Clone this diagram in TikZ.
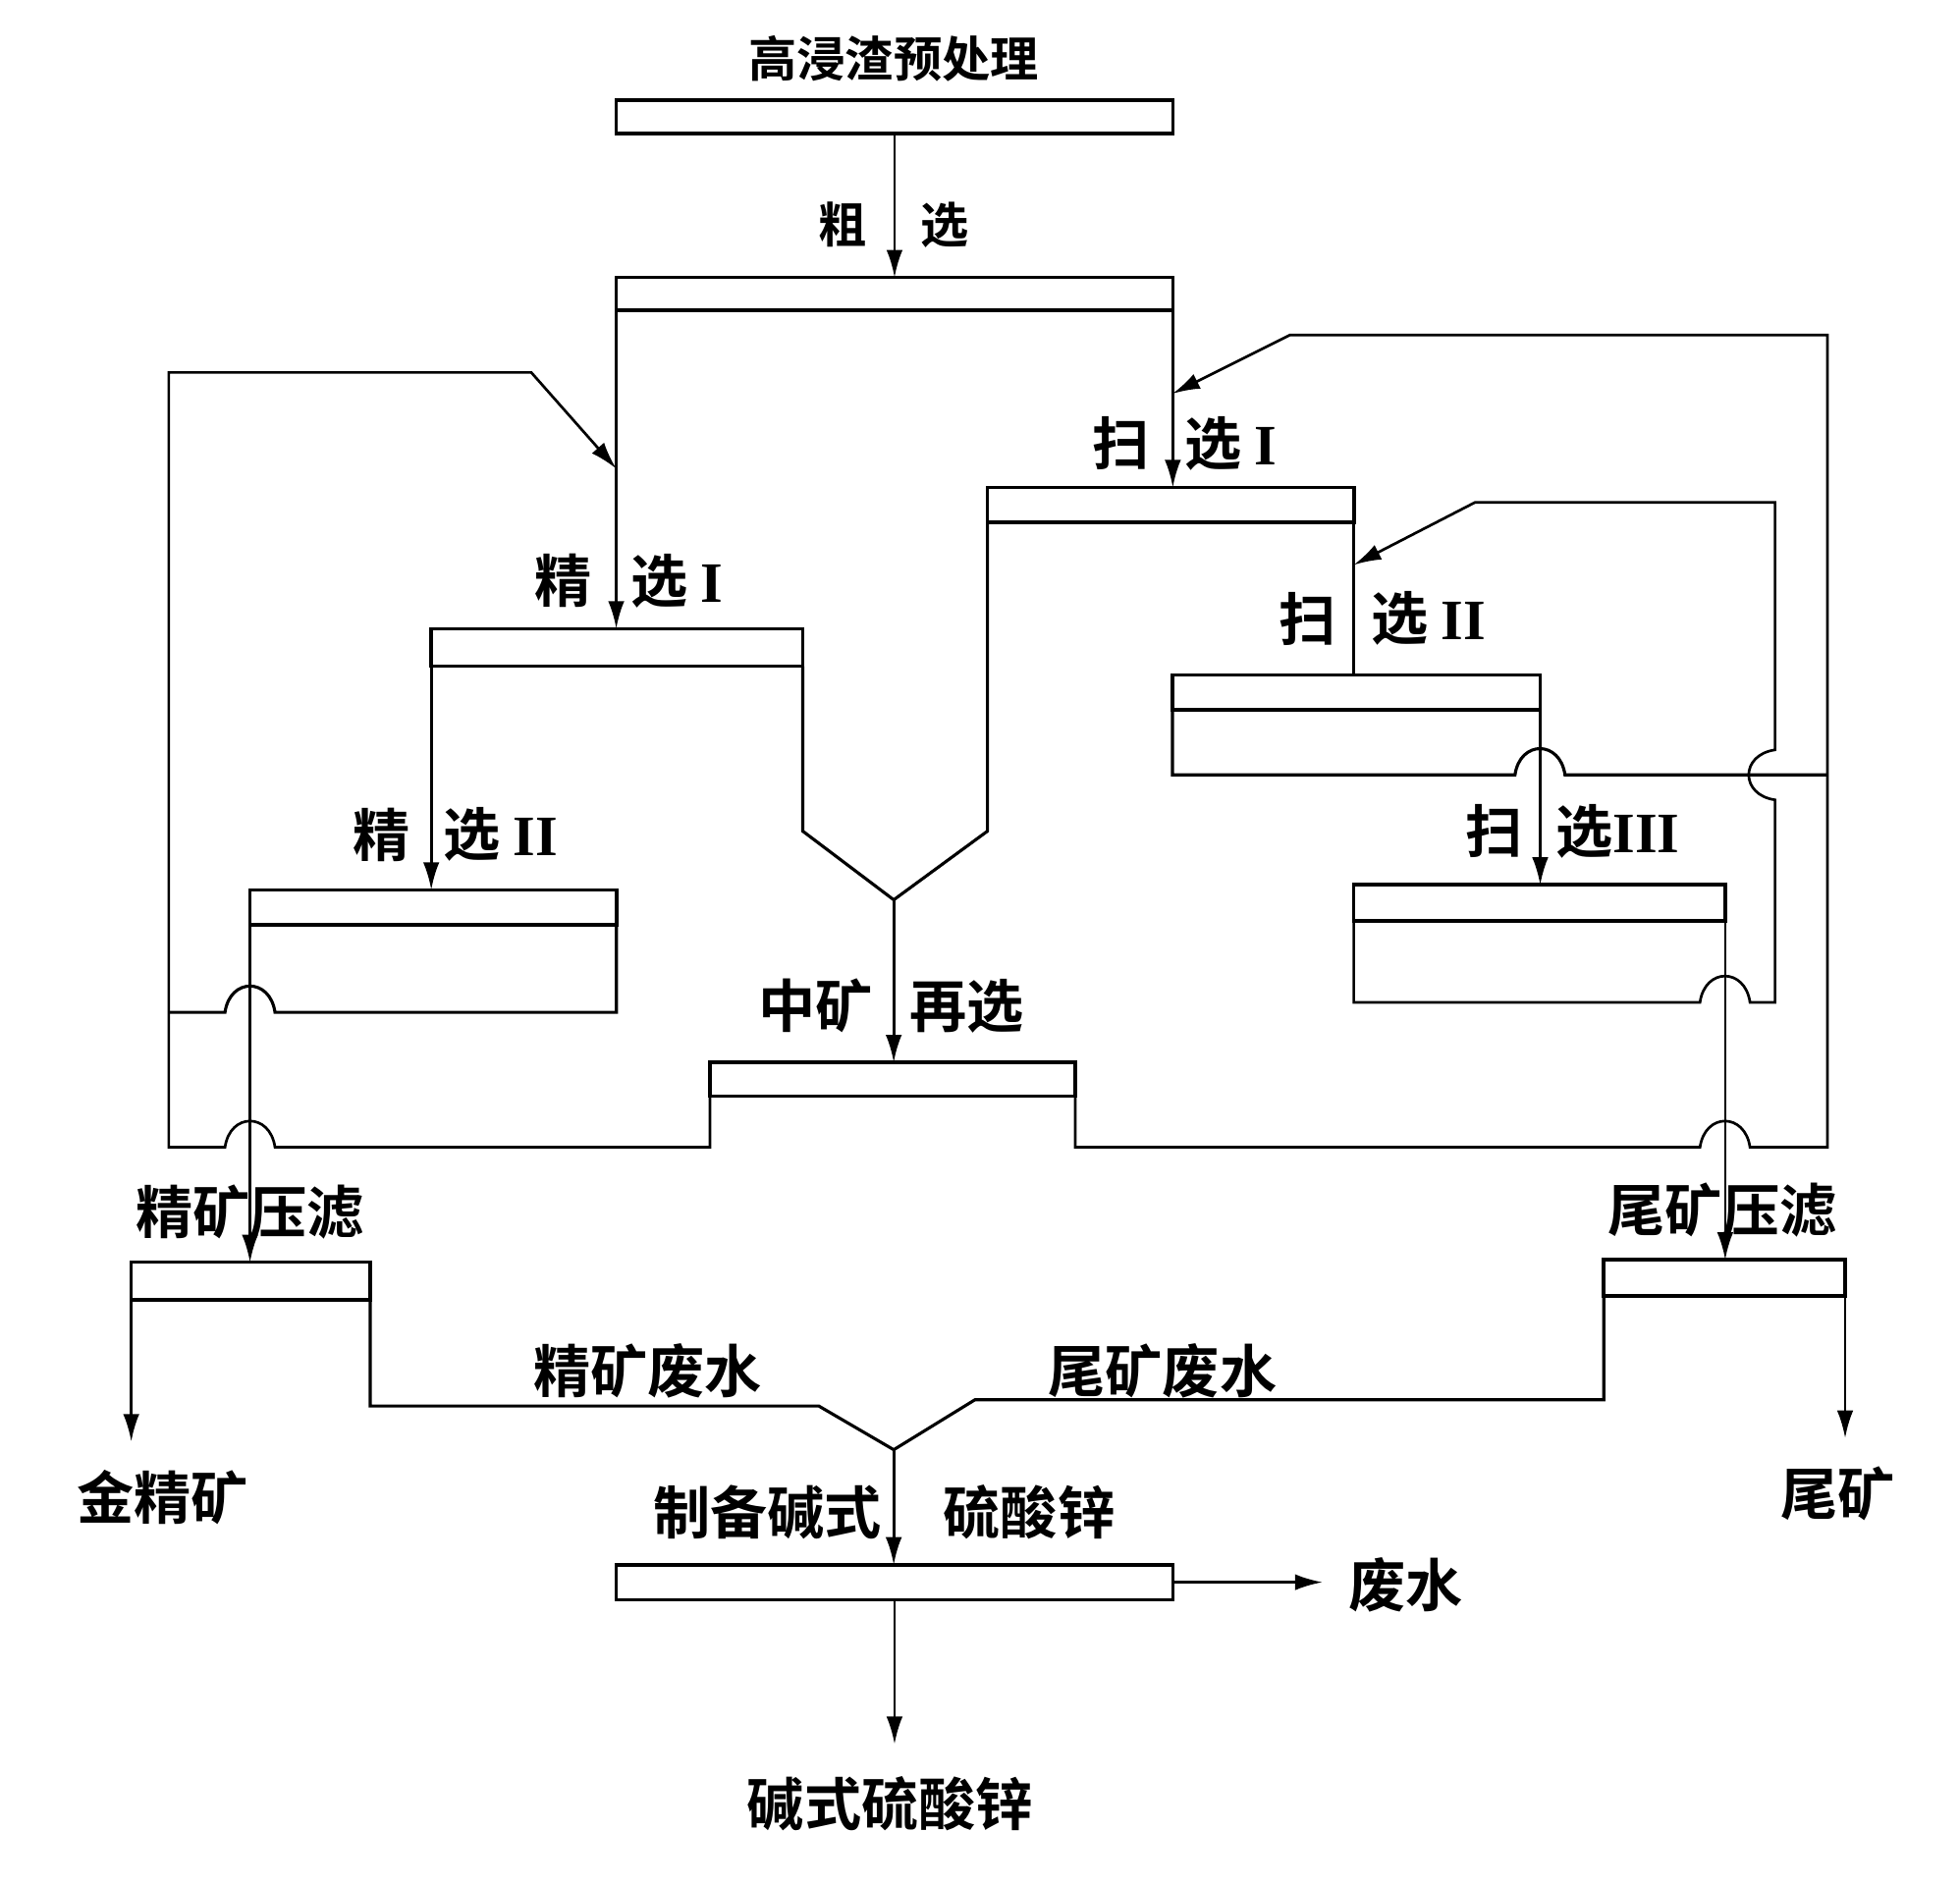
\documentclass[tikz,border=0pt]{standalone}
\usepackage{fontspec}
\setmainfont{Noto Sans CJK SC}[BoldFont={Noto Sans CJK SC Bold}]
\newfontfamily\numfont{Liberation Serif}
\usetikzlibrary{arrows.meta}

\tikzset{
  unit/.style={draw, line width=0.8pt, inner sep=0pt, outer sep=0pt, anchor=north west},
  flow/.style={line width=0.7pt},
  feed/.style={line width=0.6pt, -{Latex[length=2.2mm,width=1.3mm]}},
  lbl/.style={font=\fontsize{13}{15}\selectfont\bfseries, inner sep=0pt},
  lbls/.style={font=\fontsize{11}{13}\selectfont\bfseries, inner sep=0pt}
}

\begin{document}
\begin{tikzpicture}[x=0.01cm,y=-0.01cm]
\useasboundingbox (0,0) rectangle (1568,1508);

% flotation units
\node[unit, minimum width=4.45cm, minimum height=0.27cm] (pre) at (493,80) {};
\node[unit, minimum width=4.45cm, minimum height=0.26cm] (rough) at (493,222) {};
\node[unit, minimum width=2.97cm, minimum height=0.30cm] (cl1) at (345,503) {};
\node[unit, minimum width=2.93cm, minimum height=0.28cm] (cl2) at (200,712) {};
\node[unit, minimum width=2.93cm, minimum height=0.28cm] (sc1) at (790,390) {};
\node[unit, minimum width=2.94cm, minimum height=0.28cm] (sc2) at (938,540) {};
\node[unit, minimum width=2.97cm, minimum height=0.29cm] (sc3) at (1083,708) {};
\node[unit, minimum width=2.92cm, minimum height=0.27cm] (mid) at (568,850) {};
\node[unit, minimum width=1.91cm, minimum height=0.30cm] (fpc) at (105,1010) {};
\node[unit, minimum width=1.93cm, minimum height=0.29cm] (fpt) at (1283,1008) {};
\node[unit, minimum width=4.45cm, minimum height=0.28cm] (fin) at (493,1252) {};

% labels
\node[lbls] (tpre) at (715,47) {高浸渣预处理};
\node[lbls, anchor=east] (trougha) at (694,180) {粗};
\node[lbls, anchor=west] (troughb) at (736,180) {选};
\node[lbl, anchor=east] (tcl1a) at (474,465) {精};
\node[lbl, anchor=west] (tcl1b) at (504,465) {选 {\numfont I}};
\node[lbl, anchor=east] (tsc1a) at (920,355) {扫};
\node[lbl, anchor=west] (tsc1b) at (947,355) {选 {\numfont I}};
\node[lbl, anchor=east] (tcl2a) at (329,668) {精};
\node[lbl, anchor=west] (tcl2b) at (354,668) {选 {\numfont II}};
\node[lbl, anchor=east] (tsc2a) at (1070,495) {扫};
\node[lbl, anchor=west] (tsc2b) at (1096,495) {选 {\numfont II}};
\node[lbl, anchor=east] (tsc3a) at (1219,665) {扫};
\node[lbl, anchor=west] (tsc3b) at (1244,665) {选{\numfont III}};
\node[lbl, anchor=east] (tmida) at (699,805) {中矿};
\node[lbl, anchor=west] (tmidb) at (727,805) {再选};
\node[lbl] (tfpc) at (200,970) {精矿压滤};
\node[lbl] (tfpt) at (1378,968) {尾矿压滤};
\node[lbl] (twc) at (518,1097) {精矿废水};
\node[lbl] (twt) at (930,1097) {尾矿废水};
\node[lbl, anchor=east] (tfina) at (706,1210) {制备碱式};
\node[lbl, anchor=west] (tfinb) at (754,1210) {硫酸锌};
\node[lbl] (gold) at (130,1198) {金精矿};
\node[lbl] (tail) at (1470,1195) {尾矿};
\node[lbl, anchor=west] (waste) at (1078,1268) {废水};
\node[lbl] (prod) at (712,1443) {碱式硫酸锌};

% main feeds
\draw[feed] (pre.south) -- (rough.north);
\draw[feed] (rough.south west) -- (rough.south west |- cl1.north);
\draw[feed] (rough.south east) -- (rough.south east |- sc1.north);
\draw[feed] (cl1.south west) -- (cl1.south west |- cl2.north);
\draw[flow] (sc1.south east) -- (sc1.south east |- sc2.north);
\draw[feed] (sc2.south east) -- (sc2.south east |- sc3.north);
\draw[feed] (cl2.south west) -- (cl2.south west |- fpc.north);
\draw[feed] (sc3.south east) -- (sc3.south east |- fpt.north);

% middlings to regrinding
\coordinate (vm) at (715,720);
\coordinate (vl) at (642,665);
\coordinate (vr) at (790,665);
\draw[flow] (cl1.south east) -- (cl1.south east |- vl) -- (vm);
\draw[flow] (sc1.south west) -- (sc1.south west |- vr) -- (vm);
\draw[feed] (vm) -- (vm |- mid.north);

% return to cleaner I
\coordinate (jl) at (493,375);
\draw[flow] (cl2.south east) |- (220,810) .. controls (216,782) and (184,782) .. (180,810) -- (135,810);
\draw[feed] (mid.south west) |- (220,918) .. controls (216,890) and (184,890) .. (180,918) -- (135,918) -- (135,298) -- (425,298) -- (jl);

% return to scavenger I and II
\coordinate (jr1) at (938,315);
\coordinate (jr2) at (1083,452);
\draw[feed] (mid.south east) |- (1360,918) .. controls (1364,890) and (1396,890) .. (1400,918) -- (1462,918) -- (1462,268) -- (1032,268) -- (jr1);
\draw[flow] (sc2.south west) |- (1212,620) .. controls (1216,592) and (1248,592) .. (1252,620) -- (1462,620);
\draw[feed] (sc3.south west) |- (1360,802) .. controls (1364,774) and (1396,774) .. (1400,802) -- (1420,802) -- (1420,640) .. controls (1392,636) and (1392,604) .. (1420,600) -- (1420,402) -- (1180,402) -- (jr2);

% filtrates and products
\coordinate (vw) at (715,1160);
\draw[flow] (fpc.south east) |- (655,1125) -- (vw);
\draw[flow] (fpt.south west) |- (780,1120) -- (vw);
\draw[feed] (vw) -- (vw |- fin.north);
\draw[feed, shorten >=0.22cm] (fpc.south west) -- (fpc.south west |- gold.north);
\draw[feed, shorten >=0.22cm] (fpt.south east) -- (fpt.south east |- tail.north);
\draw[feed, shorten >=0.2cm] (fin.east) -- (fin.east -| waste.west);
\draw[feed, shorten >=0.25cm] (fin.south) -- (fin.south |- prod.north);
\end{tikzpicture}
\end{document}
